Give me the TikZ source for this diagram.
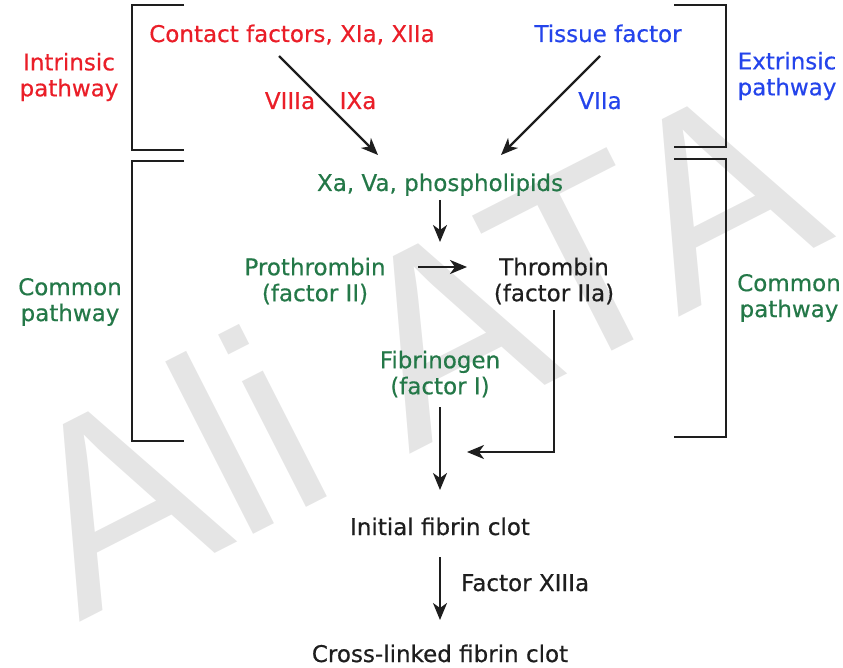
\documentclass[tikz,border=0pt]{standalone}
\usepackage{fontspec}
\setmainfont{DejaVu Sans}
\newfontfamily\lblfont{DejaVu Sans}[FakeBold=0.5]
\newfontfamily\wmfont{Liberation Sans}
\usetikzlibrary{arrows.meta}
\definecolor{intr}{RGB}{234,30,40}
\definecolor{extr}{RGB}{36,68,235}
\definecolor{comm}{RGB}{36,120,72}
\definecolor{ink}{RGB}{30,30,30}
\definecolor{mark}{RGB}{229,229,229}
\begin{document}
\begin{tikzpicture}[x=1pt,y=-1pt,
  lbl/.style={font=\lblfont\fontsize{23}{26}\selectfont, inner sep=0pt, align=center},
  conn/.style={draw=ink, line width=2.2pt,
    -{Stealth[length=17pt,width=14pt,inset=5pt]}},
  brk/.style={draw=ink, line width=2.4pt}]
\useasboundingbox (0,0) rectangle (843,668);

% watermark
\node[font=\wmfont\fontsize{267}{267}\selectfont, text=mark, anchor=base west,
  rotate=27, inner sep=0pt] (wm) at (79,623) {Ali ATA};

% pathway brackets
\draw[brk] (184,5) -| (132,150) -- (184,150);
\draw[brk] (184,161) -| (132,441) -- (184,441);
\draw[brk] (674,5) -| (726,147) -- (674,147);
\draw[brk] (674,159) -| (726,437) -- (674,437);

% side labels
\node[lbl, text=intr] (intrlbl) at (69,77) {Intrinsic\\pathway};
\node[lbl, text=extr] (extrlbl) at (787,76) {Extrinsic\\pathway};
\node[lbl, text=comm] (commL) at (70,302) {Common\\pathway};
\node[lbl, text=comm] (commR) at (789,298) {Common\\pathway};

% cascade
\node[lbl, text=intr, anchor=base] (contact) at (292,42) {Contact factors, XIa, XIIa};
\node[lbl, text=extr, anchor=base] (tissue) at (608,42) {Tissue factor};
\node[lbl, text=intr, anchor=base] (viii) at (290,109) {VIIIa};
\node[lbl, text=intr, anchor=base] (ixa) at (358,109) {IXa};
\node[lbl, text=extr, anchor=base] (viia) at (600,109) {VIIa};
\node[lbl, text=comm, anchor=base] (xa) at (440,191) {Xa, Va, phospholipids};
\node[lbl, text=comm] (prot) at (315,281) {Prothrombin\\(factor II)};
\node[lbl, text=ink] (thromb) at (554,281) {Thrombin\\(factor IIa)};
\node[lbl, text=comm] (fibg) at (440,374) {Fibrinogen\\(factor I)};
\node[lbl, text=ink, anchor=base] (initial) at (440,535) {Initial fibrin clot};
\node[lbl, text=ink, anchor=base west] (f13) at (461,591) {Factor XIIIa};
\node[lbl, text=ink, anchor=base] (cross) at (440,662) {Cross-linked fibrin clot};

% connector ends
\coordinate (cIn) at (279,56);
\coordinate (cEx) at (600,56);
\coordinate (xIn) at (378,155);
\coordinate (xEx) at (501,155);
\coordinate (xTop) at (440,200);
\coordinate (xBot) at (440,242);
\coordinate (pOut) at (418,267);
\coordinate (tIn) at (467,267);
\coordinate (tTop) at (554,310);
\coordinate (tCorner) at (554,452);
\coordinate (fJoin) at (467,452);
\coordinate (fTop) at (440,407);
\coordinate (fBot) at (440,490);
\coordinate (iTop) at (440,557);
\coordinate (iBot) at (440,620);

\draw[conn] (cIn) -- (xIn);
\draw[conn] (cEx) -- (xEx);
\draw[conn] (xTop) -- (xBot);
\draw[conn] (pOut) -- (tIn);
\draw[conn] (tTop) -- (tCorner) -- (fJoin);
\draw[conn] (fTop) -- (fBot);
\draw[conn] (iTop) -- (iBot);
\end{tikzpicture}
\end{document}
